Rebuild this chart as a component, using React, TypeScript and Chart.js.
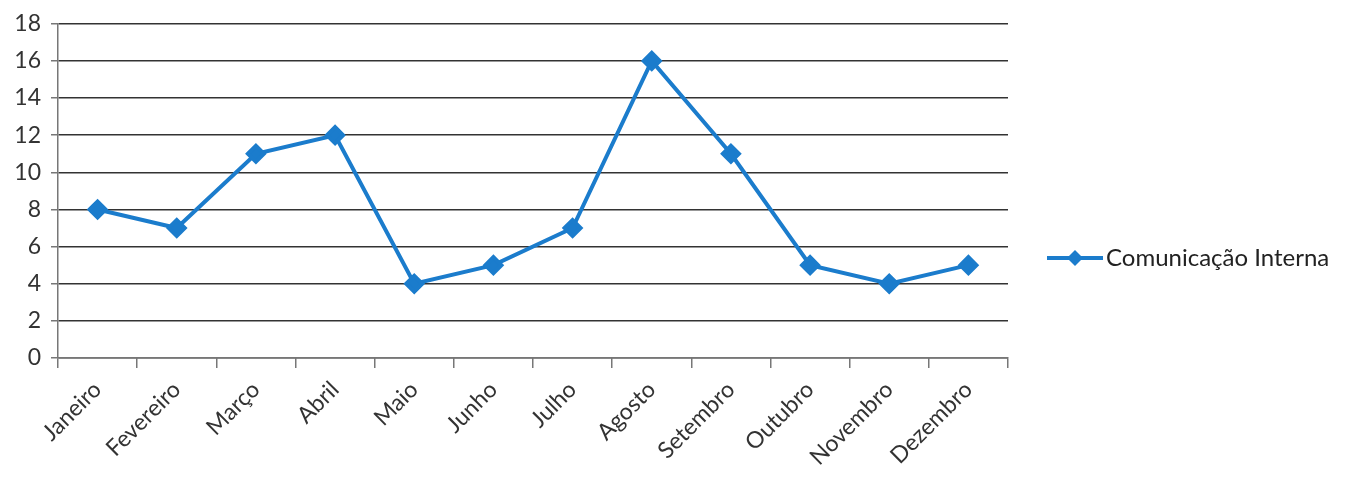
import React, { useEffect, useRef } from "react";
import { Chart, registerables } from "chart.js";

Chart.register(...registerables);

const months = [
  "Janeiro", "Fevereiro", "Março", "Abril", "Maio", "Junho",
  "Julho", "Agosto", "Setembro", "Outubro", "Novembro", "Dezembro",
];
const comunicacaoInterna = [8, 7, 11, 12, 4, 5, 7, 16, 11, 5, 4, 5];
const seriesName = "Comunicação Interna";
const yMin = 0;
const yMax = 18;
const yStep = 2;

const FONT = "Lato, 'Open Sans', sans-serif";
const BLUE = "#1b7ccc";

const legendPlugin = {
  id: "customLegend",
  afterDraw(chart: any) {
    const { ctx, chartArea } = chart;
    const y = 258;
    const x0 = chartArea.right + 39;
    const x1 = x0 + 56;
    ctx.save();
    ctx.strokeStyle = BLUE;
    ctx.lineWidth = 4;
    ctx.beginPath();
    ctx.moveTo(x0, y);
    ctx.lineTo(x1, y);
    ctx.stroke();
    const cx = (x0 + x1) / 2;
    const r = 8;
    ctx.fillStyle = BLUE;
    ctx.beginPath();
    ctx.moveTo(cx, y - r);
    ctx.lineTo(cx + r, y);
    ctx.lineTo(cx, y + r);
    ctx.lineTo(cx - r, y);
    ctx.closePath();
    ctx.fill();
    ctx.fillStyle = "#222";
    ctx.font = `24px ${FONT}`;
    ctx.textBaseline = "middle";
    ctx.textAlign = "left";
    ctx.fillText(seriesName, x1 + 3, y);
    ctx.restore();
  },
};

export default function App() {
  const ref = useRef<HTMLCanvasElement | null>(null);

  useEffect(() => {
    if (!ref.current) return;
    const chart = new Chart(ref.current, {
      type: "line",
      data: {
        labels: months,
        datasets: [
          {
            label: seriesName,
            data: comunicacaoInterna,
            borderColor: BLUE,
            backgroundColor: BLUE,
            borderWidth: 4,
            pointStyle: "rectRot",
            pointRadius: 8,
            pointHoverRadius: 8,
            pointBackgroundColor: BLUE,
            pointBorderColor: BLUE,
            tension: 0,
          },
        ],
      },
      options: {
        animation: false,
        responsive: false,
        maintainAspectRatio: false,
        layout: { padding: { top: 20, right: 340, left: 0, bottom: 0 } },
        plugins: {
          legend: { display: false },
          tooltip: { enabled: false },
        },
        scales: {
          x: {
            type: "category",
            offset: true,
            afterFit(scale: any) {
              scale.height = 123;
            },
            grid: {
              offset: true,
              drawOnChartArea: false,
              drawTicks: true,
              tickLength: 10,
              color: "#777",
              lineWidth: 1.5,
            },
            border: { color: "#777", width: 1.5 },
            ticks: {
              minRotation: 45,
              maxRotation: 45,
              autoSkip: false,
              padding: 8,
              color: "#333",
              font: { family: FONT, size: 23 },
            },
          },
          y: {
            min: yMin,
            max: yMax,
            afterFit(scale: any) {
              scale.width = 58;
            },
            ticks: {
              stepSize: yStep,
              padding: 10,
              color: "#333",
              font: { family: FONT, size: 23 },
            },
            grid: {
              color: "#333",
              lineWidth: 1.5,
              tickLength: 7,
              tickColor: "#777",
            },
            border: { color: "#777", width: 1.5 },
          },
        },
      },
      plugins: [legendPlugin],
    });
    return () => chart.destroy();
  }, []);

  return (
    <div
      style={{
        position: "fixed",
        left: 0,
        top: 0,
        width: 1348,
        height: 481,
        background: "#fff",
      }}
    >
      <canvas ref={ref} width={1348} height={481} />
    </div>
  );
}
